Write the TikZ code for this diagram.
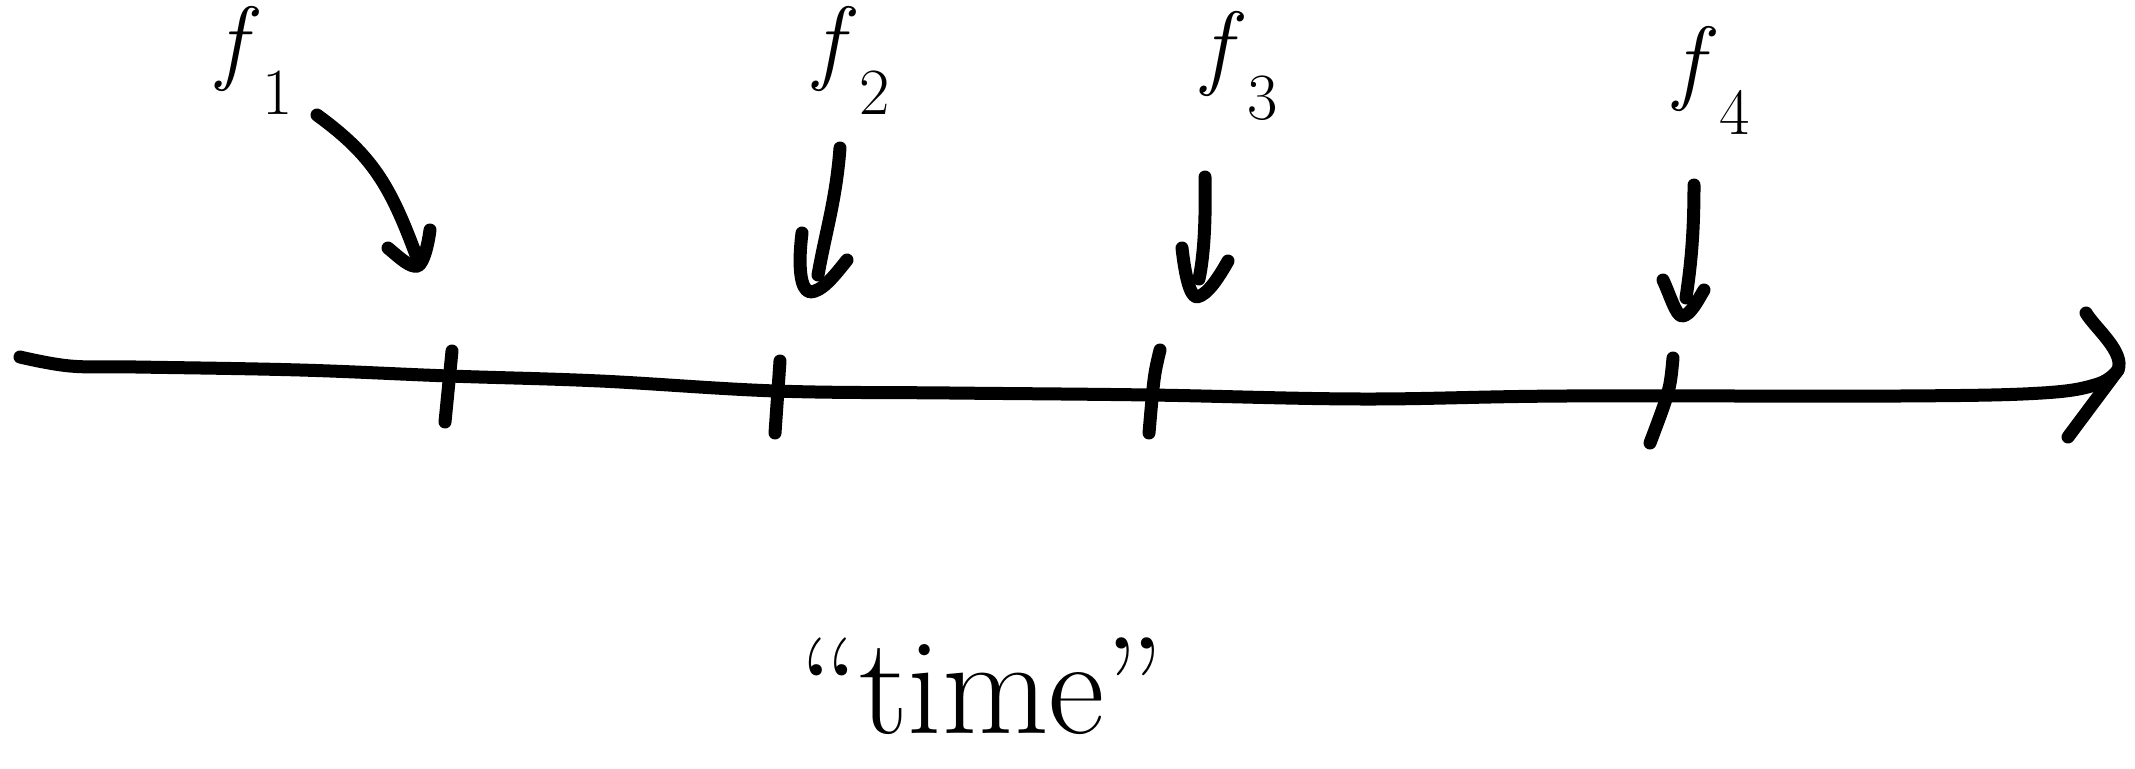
\documentclass[tikz,border=0pt]{standalone}
\usepackage{fontspec}
\usetikzlibrary{calc}
\newcommand{\fsub}[1]{\textit{f}\kern3pt\raisebox{-42pt}{\fontsize{66}{66}\selectfont #1}}
\begin{document}
\begin{tikzpicture}[x=1pt,y=-1pt,
  ink/.style={line width=13pt,line cap=round,line join=round,black},
  flabel/.style={inner sep=0pt,font=\fontsize{94}{94}\selectfont},
  tlabel/.style={inner sep=0pt,font=\fontsize{138}{138}\selectfont}]
\useasboundingbox (0,0) rectangle (2135,768);
% labels
\node[flabel] (f1) at (255,60) {\fsub{1}};
\node[flabel] (f2) at (852,60) {\fsub{2}};
\node[flabel] (f3) at (1240,66) {\fsub{3}};
\node[flabel] (f4) at (1712,80) {\fsub{4}};
\node[tlabel] (time) at (982,686) {``time''};
% axis
\coordinate (a0) at (20,357);
\coordinate (aend) at (2118,370);
\draw[ink] plot[smooth,tension=0.6] coordinates {(a0) (70,366) (136,367) (300,370) (449,376) (600,381) (776,391) (950,393) (1150,395) (1362,399) (1566,396) (1900,396) (2042,393) (2098,384) (aend)};
\coordinate (hu) at (2086,313);
\coordinate (hl) at (2068,437);
\draw[ink] (hu) .. controls (2095,328) and (2125,352) .. (aend) -- (hl);
% ticks
\coordinate (t1a) at (452,351); \coordinate (t1b) at (445,422);
\coordinate (t2a) at (780,361); \coordinate (t2b) at (775,433);
\coordinate (t3a) at (1160,350); \coordinate (t3b) at (1149,433);
\coordinate (t4a) at (1673,358); \coordinate (t4b) at (1650,443);
\draw[ink] (t1a) -- (t1b);
\draw[ink] (t2a) -- (t2b);
\draw[ink] (t3a) .. controls (1154,375) .. (t3b);
\draw[ink] (t4a) .. controls (1670,390) .. (t4b);
% arrow f1
\coordinate (p1s) at (317,115); \coordinate (p1e) at (416,255);
\draw[ink] (p1s) .. controls (372,155) and (390,185) .. (p1e);
\draw[ink] (388,248) .. controls (400,258) and (410,268) .. (418,266) .. controls (424,262) and (428,245) .. (430,230);
% arrow f2
\coordinate (p2s) at (840,148); \coordinate (p2e) at (818,275);
\draw[ink] (p2s) .. controls (836,200) and (826,230) .. (p2e);
\draw[ink] (802,233) .. controls (798,265) and (800,290) .. (810,292) .. controls (822,292) and (835,275) .. (847,260);
% arrow f3
\coordinate (p3s) at (1205,177); \coordinate (p3e) at (1199,279);
\draw[ink] (p3s) .. controls (1206,230) and (1203,260) .. (p3e);
\draw[ink] (1182,248) .. controls (1185,275) and (1190,297) .. (1197,297) .. controls (1208,295) and (1220,275) .. (1228,261);
% arrow f4
\coordinate (p4s) at (1694,185); \coordinate (p4e) at (1686,298);
\draw[ink] (p4s) .. controls (1694,240) and (1690,270) .. (p4e);
\draw[ink] (1663,280) .. controls (1670,295) and (1676,316) .. (1682,316) .. controls (1690,316) and (1698,300) .. (1704,290);
\end{tikzpicture}
\end{document}
